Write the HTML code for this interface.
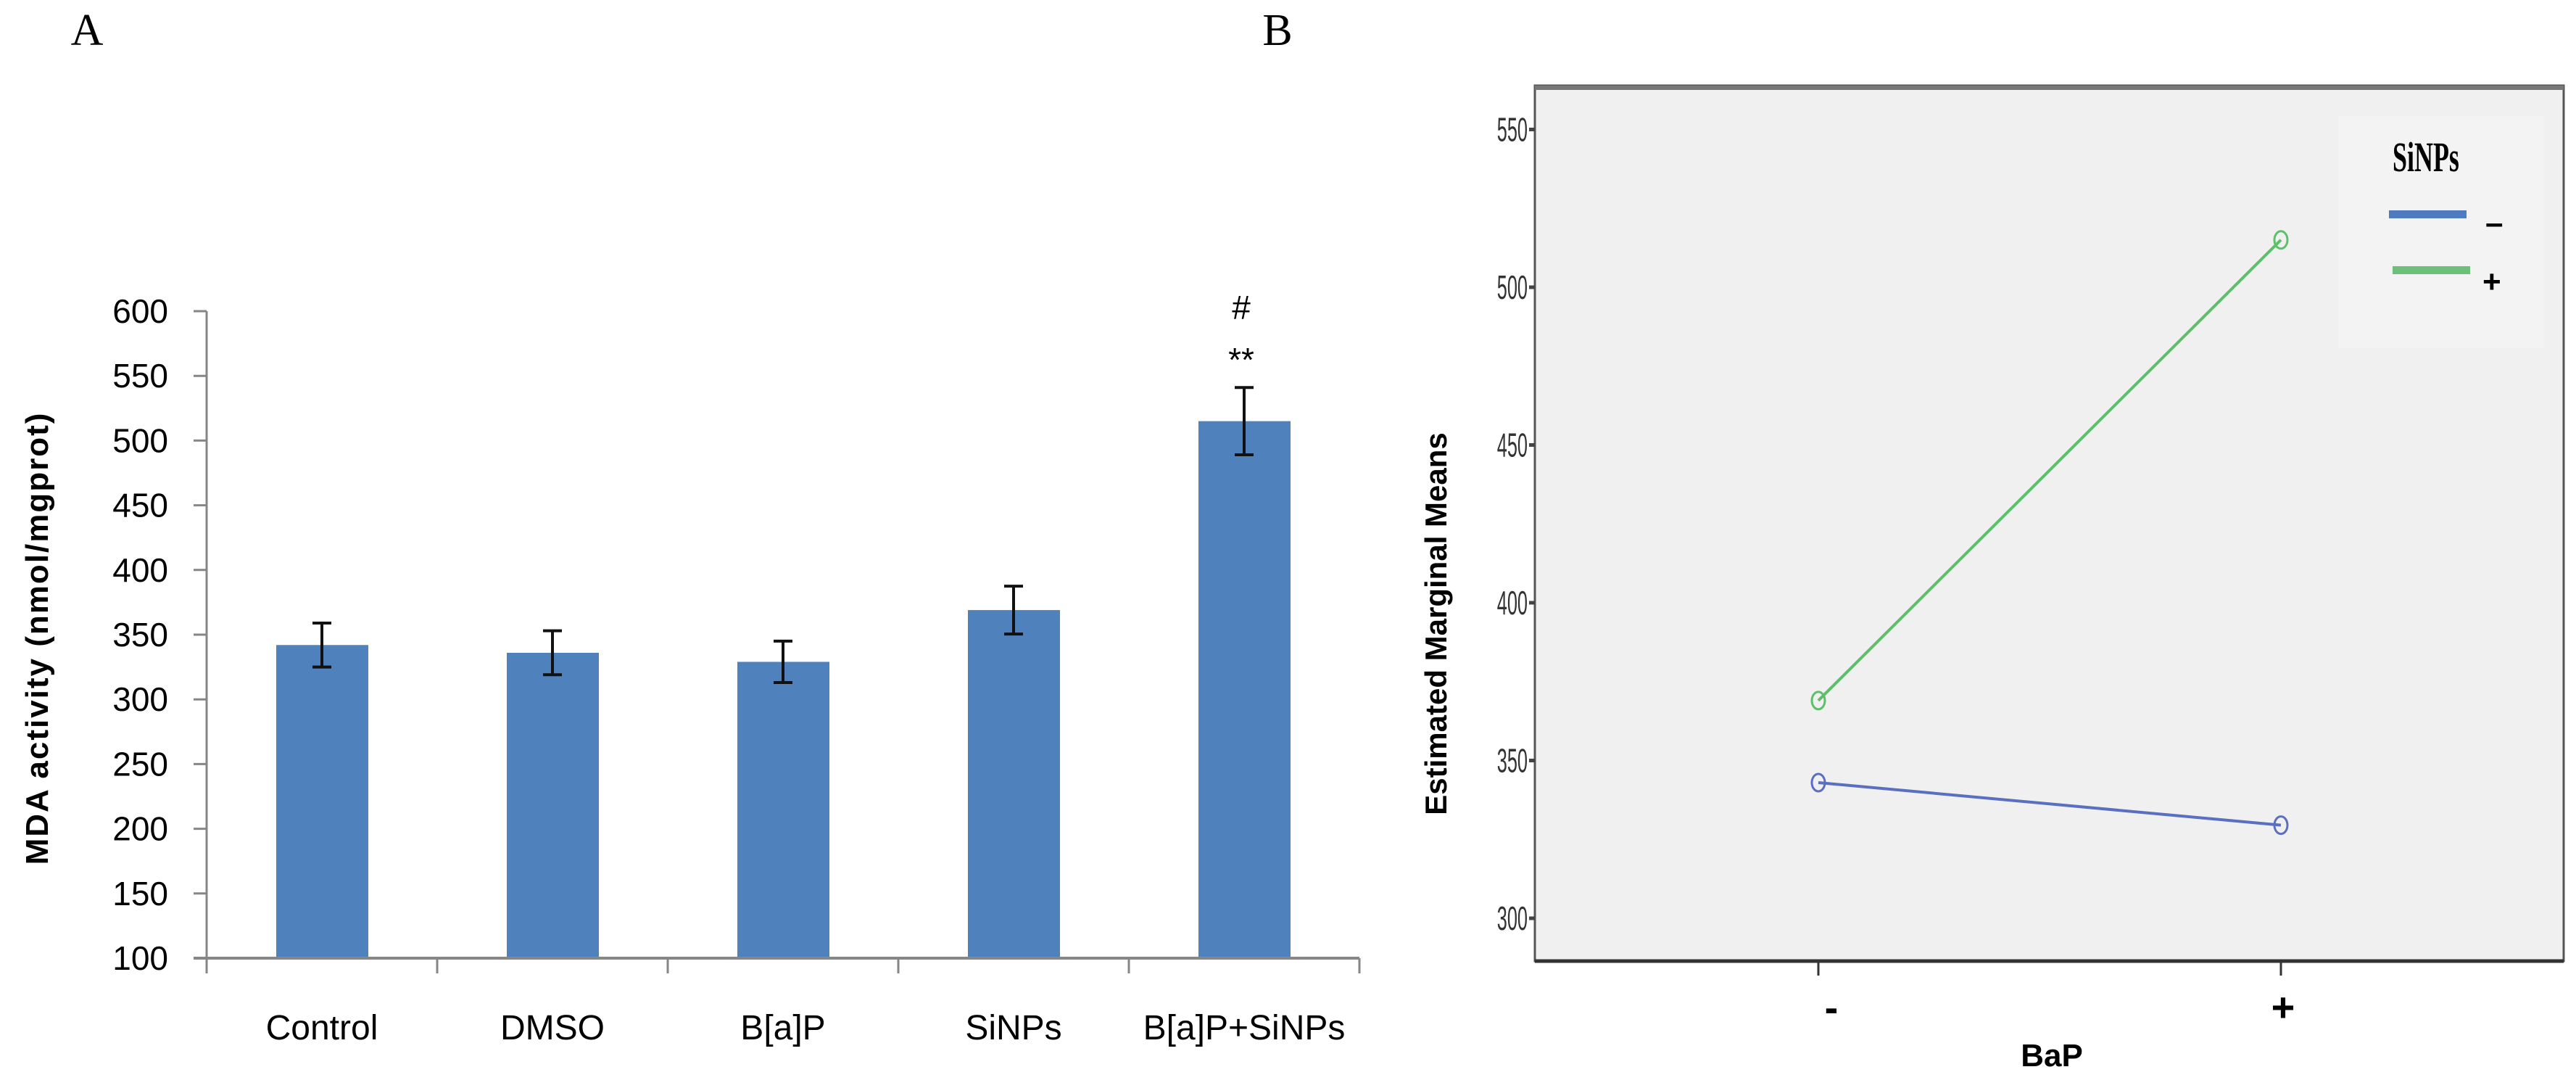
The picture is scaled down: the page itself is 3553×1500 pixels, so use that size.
<!DOCTYPE html>
<html><head><meta charset="utf-8"><style>
html,body{margin:0;padding:0;background:#fff;}
svg{display:block;}
</style></head><body>
<svg id="chart" width="3553" height="1500" viewBox="0 0 3553 1500" xmlns="http://www.w3.org/2000/svg">
<text x="120" y="62" font-family="Liberation Serif, serif" font-size="62" text-anchor="middle">A</text>
<text x="1762" y="62" font-family="Liberation Serif, serif" font-size="62" text-anchor="middle">B</text>
<g id="gA"></g>
<g id="gB"></g>
</svg>
<script>
// Panel A data
const categoriesA = ["Control","DMSO","B[a]P","SiNPs","B[a]P+SiNPs"];
const valuesA = [342, 336, 329, 369, 515];
const errorsA = [17, 17, 16, 18.5, 26];
const ticksA = [100,150,200,250,300,350,400,450,500,550,600];
// Panel B data
const groupsB = ["-","+"];
const seriesBneg = [343, 329.5];
const seriesBpos = [369, 515];
const ticksB = [300,350,400,450,500,550];

const NS="http://www.w3.org/2000/svg";
function mk(tag,attrs,parent,text){const e=document.createElementNS(NS,tag);for(const k in attrs)e.setAttribute(k,attrs[k]);if(text!==undefined)e.textContent=text;parent.appendChild(e);return e;}

// ---- Panel A ----
const gA=document.getElementById('gA');
const ax0=285, catW=318, ayTop=429, ayBot=1321;
const yA=v=>ayBot-(v-100)/500*(ayBot-ayTop);
const xA=i=>ax0+catW*i+catW/2;
const axA=mk('line',{x1:ax0,y1:ayTop,x2:ax0,y2:ayBot,stroke:'#868686','stroke-width':3},gA);


ticksA.forEach(t=>{
  const tl=mk('line',{x1:ax0-18,y1:yA(t),x2:ax0,y2:yA(t),stroke:'#868686','stroke-width':3},gA);
  
  
  const tx=mk('text',{x:232,y:yA(t)+16,'font-family':'Liberation Sans Narrow, Liberation Sans, sans-serif','font-size':46,'text-anchor':'end'},gA,String(t));
  
  
});
categoriesA.forEach((c,i)=>{
  const v=valuesA[i], e=errorsA[i], cx=xA(i);
  const b=mk('rect',{x:cx-63,y:yA(v),width:127,height:ayBot-yA(v),fill:'#4f81bd'},gA);
  
  
  const eb=mk('path',{d:`M${cx},${yA(v+e)}V${yA(v-e)}M${cx-13},${yA(v+e)}H${cx+13}M${cx-13},${yA(v-e)}H${cx+13}`,stroke:'#111','stroke-width':4,fill:'none'},gA);
  
  
  const lb=mk('text',{x:cx,y:1433,'font-family':'Liberation Sans Narrow, Liberation Sans, sans-serif','font-size':48,'text-anchor':'middle'},gA,c);
  
  
});
for(let i=0;i<=categoriesA.length;i++){
  const t=mk('line',{x1:ax0+catW*i,y1:ayBot,x2:ax0+catW*i,y2:1342,stroke:'#868686','stroke-width':3},gA);
  
  
}
const xaA=mk('line',{x1:ax0-18,y1:ayBot,x2:ax0+catW*5,y2:ayBot,stroke:'#868686','stroke-width':4},gA);


const s1=mk('text',{x:xA(4)-4,y:440,'font-family':'Liberation Sans, sans-serif','font-size':46,'text-anchor':'middle'},gA,'#');


const s2=mk('text',{x:xA(4)-4,y:512,'font-family':'Liberation Sans, sans-serif','font-size':46,'text-anchor':'middle'},gA,'**');


const ytA=mk('text',{x:0,y:0,transform:'translate(66,880) rotate(-90)','font-family':'Liberation Sans, sans-serif','font-size':44,'font-weight':'bold','text-anchor':'middle','letter-spacing':'2'},gA,'MDA activity (nmol/mgprot)');



// ---- Panel B ----
const gB=document.getElementById('gB');
const bL=2117,bR=3536,bT=118,bB=1325;
const yB=v=>1266-(v-300)/50*217.5;
const xBpos=[2508,3146];
const bg=mk('rect',{x:bL,y:bT,width:bR-bL,height:bB-bT,fill:'#f0f0f0',stroke:'#555','stroke-width':3},gB);


const topb=mk('line',{x1:bL,y1:bT+3,x2:bR,y2:bT+3,stroke:'#777','stroke-width':6},gB);


const botb=mk('line',{x1:bL,y1:bB,x2:bR,y2:bB,stroke:'#333','stroke-width':5},gB);


ticksB.forEach(t=>{
  const tl=mk('line',{x1:bL-8,y1:yB(t),x2:bL,y2:yB(t),stroke:'#444','stroke-width':5},gB);
  
  
  const tx=mk('text',{x:0,y:0,transform:`translate(${bL-10},${yB(t)+16}) scale(0.55,1)`,'font-family':'Liberation Sans, sans-serif','font-size':46,'text-anchor':'end',fill:'#333'},gB,String(t));
  
  
});
groupsB.forEach((g,i)=>{
  const t=mk('line',{x1:xBpos[i],y1:bB,x2:xBpos[i],y2:1345,stroke:'#333','stroke-width':3},gB);
  
  
  const tx=mk('text',{x:xBpos[i]+(i?3:18),y:1408,'font-family':'Liberation Sans, sans-serif','font-size':56,'font-weight':'bold','text-anchor':'middle'},gB,g);
  
  
});
function drawSeries(vals,color,name){
  const l=mk('line',{x1:xBpos[0],y1:yB(vals[0]),x2:xBpos[1],y2:yB(vals[1]),stroke:color,'stroke-width':4},gB);
  
  
  vals.forEach((v,i)=>{
    const c=mk('ellipse',{cx:xBpos[i],cy:yB(v),rx:9,ry:12,fill:'none',stroke:color,'stroke-width':3},gB);
    
    
  });
}
drawSeries(seriesBneg,'#5b6fc0','sinps-neg');
drawSeries(seriesBpos,'#5cc06a','sinps-pos');
const lg=mk('rect',{x:3225,y:160,width:285,height:320,fill:'#f3f3f3'},gB);


const lt=mk('text',{x:0,y:0,transform:'translate(3300,236) scale(0.62,1)','font-family':'Liberation Serif, serif','font-size':58,'font-weight':'bold'},gB,'SiNPs');


const l1=mk('rect',{x:3295,y:290,width:107,height:11,fill:'#4f7cc0'},gB);


const l1t=mk('text',{x:3428,y:322,'font-family':'Liberation Sans, sans-serif','font-size':44,'font-weight':'bold'},gB,'–');


const l2=mk('rect',{x:3300,y:367,width:107,height:11,fill:'#6cc07a'},gB);


const l2t=mk('text',{x:3424,y:403,'font-family':'Liberation Sans, sans-serif','font-size':44,'font-weight':'bold'},gB,'+');


const xtB=mk('text',{x:2830,y:1470,'font-family':'Liberation Sans, sans-serif','font-size':44,'font-weight':'bold','text-anchor':'middle'},gB,'BaP');


const ytB=mk('text',{x:0,y:0,transform:'translate(1995,860) rotate(-90)','font-family':'Liberation Sans, sans-serif','font-size':42,'font-weight':'bold','text-anchor':'middle'},gB,'Estimated Marginal Means');


</script>
</body></html>
